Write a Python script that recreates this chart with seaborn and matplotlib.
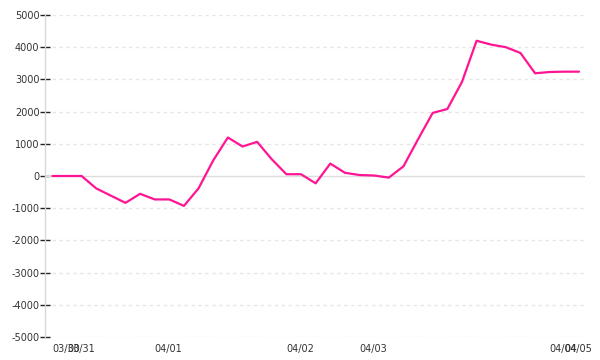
import matplotlib
matplotlib.use("Agg")
import matplotlib.pyplot as plt
import seaborn as sns
import pandas as pd

# ---- data ----
days = (["03/30"] * 1 + ["03/31"] * 6 + ["04/01"] * 9 + ["04/02"] * 5 +
        ["04/03"] * 13 + ["04/04"] * 1 + ["04/05"] * 2)
values = [0, 0, 0, -385, -610, -834, -553, -728, -728, -928,
          -380, 485, 1196, 916, 1060, 520, 55, 55, -228, 385,
          100, 30, 15, -50, 300, 1140, 1960, 2080, 2920, 4200,
          4080, 4000, 3820, 3190, 3230, 3240, 3240]
y_ticks = [-5000, -4000, -3000, -2000, -1000, 0, 1000, 2000, 3000, 4000, 5000]

df = pd.DataFrame({"idx": range(len(values)), "value": values, "day": days})

sns.set_style("white")
plt.rcParams["font.family"] = ["DejaVu Sans"]

fig = plt.figure(figsize=(6, 3.6), dpi=100)
ax = fig.add_axes([45 / 600, 1 - 337 / 360, 540 / 600, 322 / 360])

n = len(values)
x_right = (n - 1) + 6 / 14.63
ax.set_xlim(-0.5, x_right)
ax.set_ylim(min(y_ticks), max(y_ticks))

# grid lines
for t in y_ticks:
    if t == 0:
        ax.axhline(0, color="#dddddd", lw=1.0, zorder=1)
    else:
        ax.hlines(t, 0, x_right, colors="#e6e6e6", lw=1.0,
                  linestyles=(0, (2.5, 2.5)), zorder=1)

sns.lineplot(data=df, x="idx", y="value", ax=ax, color="#ff1493",
             lw=1.6, zorder=3, legend=False)

# x labels at the first sample of each day
first_idx = []
labels = []
for i, d in enumerate(days):
    if d not in labels:
        labels.append(d)
        first_idx.append(i)
ax.set_xticks(first_idx)
ax.set_xticklabels(labels, ha="left")
ax.tick_params(axis="x", bottom=True, length=0, pad=5, labelsize=7,
               labelcolor="#333333")

ax.set_yticks(y_ticks)
ax.set_yticklabels([str(t) for t in y_ticks])
ax.tick_params(axis="y", left=True, direction="inout", length=7, width=1.0,
               color="#222222", pad=0.5, labelsize=7, labelcolor="#333333")

for s in ["top", "right", "bottom"]:
    ax.spines[s].set_visible(False)
ax.spines["left"].set_color("#d8d8d8")
ax.spines["left"].set_linewidth(1.0)
ax.set_xlabel("")
ax.set_ylabel("")

fig.savefig("out.png", dpi=100, facecolor="white")
